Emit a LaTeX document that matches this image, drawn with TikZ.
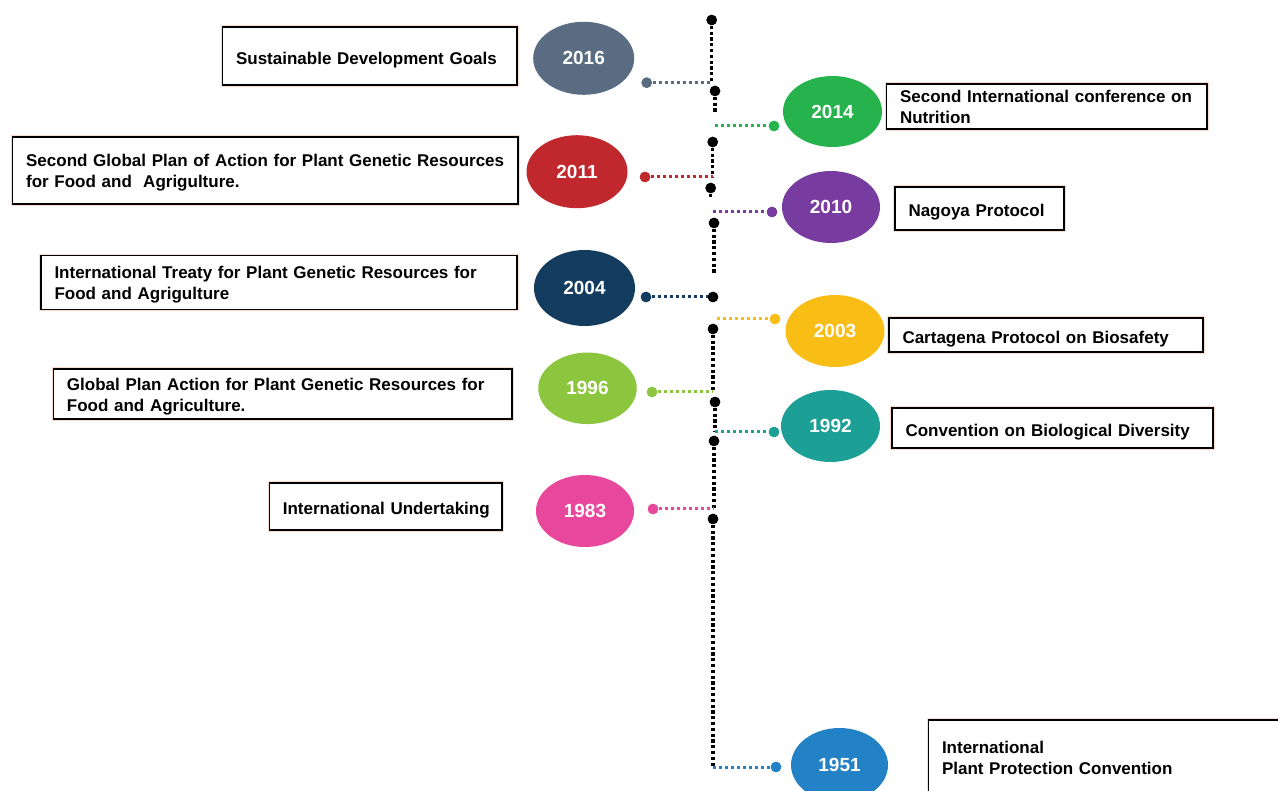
\documentclass[tikz,border=0pt]{standalone}
\usepackage{fontspec}
\setmainfont{Liberation Sans}
\usetikzlibrary{shapes.geometric}
\definecolor{c2016}{RGB}{90,108,130}
\definecolor{c2014}{RGB}{38,178,76}
\definecolor{c2011}{RGB}{192,40,45}
\definecolor{c2010}{RGB}{120,60,160}
\definecolor{c2004}{RGB}{20,60,95}
\definecolor{c2003}{RGB}{248,190,22}
\definecolor{c1996}{RGB}{140,198,63}
\definecolor{c1992}{RGB}{28,160,150}
\definecolor{c1983}{RGB}{232,72,155}
\definecolor{c1951}{RGB}{35,130,198}
\definecolor{halo}{RGB}{250,218,205}
\newcommand{\boxfont}{\fontsize{17}{21}\selectfont\bfseries}
\newcommand{\yearfont}{\fontsize{19}{22}\selectfont\bfseries}
\newcommand{\tstrut}{\rule{0pt}{19.8pt}}
\newcommand{\mstrut}{\rule{0pt}{17.2pt}}
\begin{document}
\begin{tikzpicture}[x=1pt,y=-1pt,
  yearnode/.style={ellipse, inner sep=0pt, text=white, font=\yearfont},
  infobox/.style={draw=black, line width=1.5pt, fill=white, rectangle,
    inner xsep=13.5pt, inner ysep=0pt, align=left, font=\boxfont,
    preaction={draw=halo, line width=3.5pt}},
  spine/.style={draw=black, line width=3.2pt, dash pattern=on 3.2pt off 2.6pt},
  conn/.style={line width=3pt, dash pattern=on 3pt off 3pt},
  sdot/.style={circle, fill=black, inner sep=0pt, minimum size=10.5pt},
  cdot/.style={circle, inner sep=0pt, minimum size=10.5pt}
]
\useasboundingbox (0,0) rectangle (1278,791);
\fill[white] (0,0) rectangle (1278,791);

% ---- year ellipses ----
\node[yearnode, fill=c2016, minimum width=101pt, minimum height=73pt] (y2016) at (583.7,58.3) {2016};
\node[yearnode, fill=c2014, minimum width=99pt, minimum height=71pt] (y2014) at (832.5,111.5) {2014};
\node[yearnode, fill=c2011, minimum width=101pt, minimum height=73pt] (y2011) at (577,171.7) {2011};
\node[yearnode, fill=c2010, minimum width=98pt, minimum height=72pt] (y2010) at (831,207) {2010};
\node[yearnode, fill=c2004, minimum width=101pt, minimum height=76pt] (y2004) at (584.5,288) {2004};
\node[yearnode, fill=c2003, minimum width=99pt, minimum height=72pt] (y2003) at (835,331) {2003};
\node[yearnode, fill=c1996, minimum width=98.5pt, minimum height=71.5pt] (y1996) at (587.5,388.3) {1996};
\node[yearnode, fill=c1992, minimum width=99pt, minimum height=72pt] (y1992) at (830.5,426) {1992};
\node[yearnode, fill=c1983, minimum width=98pt, minimum height=72pt] (y1983) at (585,511) {1983};
\node[yearnode, fill=c1951, minimum width=97pt, minimum height=74pt] (y1951) at (839.5,765) {1951};

% ---- text boxes ----
\node[infobox, text width=267.5pt, minimum height=58pt] (b2016) at (369.8,56) {\tstrut\mbox{Sustainable Development Goals}};
\node[infobox, text width=293.5pt, minimum height=45pt] (b2014) at (1046.8,106.5) {\mbox{Second International conference on}\\\mbox{Nutrition}};
\node[infobox, text width=478.5pt, minimum height=67pt] (b2011) at (265.4,170.5) {\mstrut\mbox{Second Global Plan of Action for Plant Genetic Resources}\\\mbox{for Food and\ \ Agrigulture.}};
\node[infobox, text width=142pt, minimum height=43pt] (b2010) at (979.5,208.5) {\tstrut\mbox{Nagoya Protocol}};
\node[infobox, text width=449pt, minimum height=54pt] (b2004) at (279,282.5) {\mstrut\mbox{International Treaty for Plant Genetic Resources for}\\\mbox{Food and Agrigulture}};
\node[infobox, text width=287pt, minimum height=34pt] (b2003) at (1046,335) {\tstrut\mbox{Cartagena Protocol on Biosafety}};
\node[infobox, text width=431.5pt, minimum height=50pt] (b1996) at (282.7,394) {\mstrut\mbox{Global Plan Action for Plant Genetic Resources for}\\\mbox{Food and Agriculture.}};
\node[infobox, text width=294pt, minimum height=40pt] (b1992) at (1052.5,428) {\tstrut\mbox{Convention on Biological Diversity}};
\node[infobox, text width=205.7pt, minimum height=47pt] (b1983) at (385.7,506.5) {\tstrut\mbox{International Undertaking}};
\node[infobox, text width=343pt, minimum height=76pt] (b1951) at (1113.5,758) {\mbox{International}\\\mbox{Plant Protection Convention}};

% ---- spine dots ----
\node[sdot] (s1) at (711.7,20) {};
\node[sdot] (s2) at (715,91) {};
\node[sdot] (s3) at (712.7,142) {};
\node[sdot] (s4) at (710.7,188) {};
\node[sdot] (s5) at (714,223) {};
\node[sdot] (s6) at (713,297) {};
\node[sdot] (s7) at (713,329) {};
\node[sdot] (s8) at (715,402) {};
\node[sdot] (s9) at (714,441) {};
\node[sdot] (s10) at (713,519) {};

% ---- spine junction coordinates ----
\coordinate (j2016) at (711.7,82.7);
\coordinate (e2) at (715,112);
\coordinate (j2014) at (715,126);
\coordinate (j2011) at (712.7,177);
\coordinate (e4) at (710.7,197);
\coordinate (j2010) at (713,212);
\coordinate (e5) at (714,273);
\coordinate (j2003) at (717,319);
\coordinate (j1996) at (713,392);
\coordinate (j1992) at (715,432);
\coordinate (j1983) at (714,509);
\coordinate (j1951) at (713,767);

% ---- colored connector dots ----
\node[cdot, fill=c2016] (d2016) at (646.7,82.7) {};
\node[cdot, fill=c2014] (d2014) at (774,126) {};
\node[cdot, fill=c2011] (d2011) at (645,177) {};
\node[cdot, fill=c2010] (d2010) at (772,212) {};
\node[cdot, fill=c2004] (d2004) at (646,297) {};
\node[cdot, fill=c2003] (d2003) at (775,319) {};
\node[cdot, fill=c1996] (d1996) at (652,392) {};
\node[cdot, fill=c1992] (d1992) at (774,432) {};
\node[cdot, fill=c1983] (d1983) at (653,509) {};
\node[cdot, fill=c1951] (d1951) at (776,767) {};

% ---- spine segments ----
\draw[spine] (s1.center) -- (j2016);
\draw[spine] (s2.center) -- (e2);
\draw[spine] (s3.center) -- (j2011);
\draw[spine] (s4.center) -- (e4);
\draw[spine] (s5.center) -- (e5);
\draw[spine] (s7.center) -- (j1996);
\draw[spine] (s8.center) -- (j1992);
\draw[spine] (s9.center) -- (j1983);
\draw[spine] (s10.center) -- (j1951);

% ---- connectors ----
\draw[conn, c2016] (d2016.center) -- (j2016);
\draw[conn, c2014] (j2014) -- (d2014.center);
\draw[conn, c2011] (d2011.center) -- (j2011);
\draw[conn, c2010] (j2010) -- (d2010.center);
\draw[conn, c2004] (d2004.center) -- (s6.center);
\draw[conn, c2003] (j2003) -- (d2003.center);
\draw[conn, c1996] (d1996.center) -- (j1996);
\draw[conn, c1992] (j1992) -- (d1992.center);
\draw[conn, c1983] (d1983.center) -- (j1983);
\draw[conn, c1951] (j1951) -- (d1951.center);

% redraw dots on top
\foreach \n in {s1,s2,s3,s4,s5,s6,s7,s8,s9,s10} {\fill (\n) circle (5.25pt);}
\fill[c2016] (d2016) circle (5.25pt);
\fill[c2014] (d2014) circle (5.25pt);
\fill[c2011] (d2011) circle (5.25pt);
\fill[c2010] (d2010) circle (5.25pt);
\fill[c2004] (d2004) circle (5.25pt);
\fill[c2003] (d2003) circle (5.25pt);
\fill[c1996] (d1996) circle (5.25pt);
\fill[c1992] (d1992) circle (5.25pt);
\fill[c1983] (d1983) circle (5.25pt);
\fill[c1951] (d1951) circle (5.25pt);
\end{tikzpicture}
\end{document}
